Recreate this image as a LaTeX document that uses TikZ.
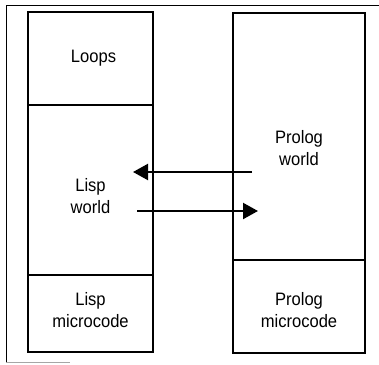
\documentclass[tikz,border=0pt]{standalone}
\usepackage{fontspec}
\setmainfont{Liberation Sans}[FakeStretch=0.92]
\usetikzlibrary{arrows.meta}

\begin{document}
\begin{tikzpicture}[x=1pt, y=-1pt, line width=2pt,
    part/.style={draw, rectangle, inner sep=0pt},
    caption/.style={align=center, font=\fontsize{18}{22}\selectfont},
    link/.style={-{Triangle[length=15pt,width=16pt]}, line width=2.2pt}]
\useasboundingbox (0,0) rectangle (379,364);

% frame round the figure
\draw[line width=0.9pt] (379,5) -- (6,5) -- (6,362);
\draw[black!35, line width=0.6pt] (6,362) -- (70,362);

% the two columns
\foreach \nm/\cx/\cy/\w/\h in {loops/90.5/58.5/125/93, lispworld/90.5/190/125/170,
    lispmicro/90.5/313.5/125/77, prologworld/299/136.5/132/247, prologmicro/299/306.5/132/93}
{
    \node[part, minimum width=\w pt, minimum height=\h pt] (\nm) at (\cx,\cy) {};
}

\node[caption] at ([xshift=3pt]loops.center) {Loops};
\node[caption] at ([yshift=-6pt]lispworld.center) {Lisp\\world};
\node[caption] at ([yshift=3pt]lispmicro.center) {Lisp\\microcode};
\node[caption] at ([yshift=-12pt]prologworld.center) {Prolog\\world};
\node[caption] at ([yshift=-4pt]prologmicro.center) {Prolog\\microcode};

% calls between the worlds
\coordinate (fromprolog) at (252,172);
\coordinate (intolisp) at (133,172);
\coordinate (fromlisp) at (137,211);
\coordinate (intoprolog) at (258,211);
\draw[link] (fromprolog) -- (intolisp);
\draw[link] (fromlisp) -- (intoprolog);
\end{tikzpicture}
\end{document}
